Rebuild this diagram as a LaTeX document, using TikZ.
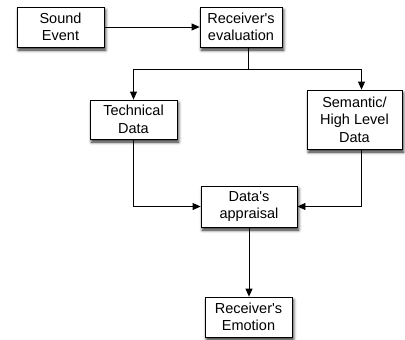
\documentclass[tikz,border=0pt]{standalone}
\usepackage{fontspec}
\setmainfont{Liberation Sans}[Ligatures=TeXOff]
\usetikzlibrary{arrows.meta,shadows.blur,calc}
\begin{document}
\begin{tikzpicture}[x=1pt,y=1pt,
  box/.style={draw=black, line width=0.8pt, fill=white, rectangle, inner sep=0pt,
    align=center, font=\fontsize{14.5}{17.5}\selectfont,
    blur shadow={shadow xshift=1.5pt, shadow yshift=-3pt, shadow blur radius=3pt, shadow opacity=85}},
  conn/.style={draw=black, line width=0.8pt, -{Triangle[length=8pt,width=7pt]}},
  plain/.style={draw=black, line width=0.8pt}]
\useasboundingbox (0,0) rectangle (405,-340);
\node[box, minimum width=87pt, minimum height=40pt] (sound) at (60.5,-27) {Sound\\Event};
\node[box, minimum width=82pt, minimum height=40pt] (recv) at (241,-27) {Receiver's\\evaluation};
\node[box, minimum width=87pt, minimum height=39pt] (tech) at (133.5,-119.5) {Technical\\Data};
\node[box, minimum width=95pt, minimum height=59pt] (sem) at (354.5,-119.5) {Semantic/\\High Level\\Data};
\node[box, minimum width=96pt, minimum height=41pt] (appr) at (249,-206.5) {Data's\\appraisal};
\node[box, minimum width=87pt, minimum height=40pt] (emo) at (248.5,-317) {Receiver's\\Emotion};
\coordinate (split) at ($(recv.south)+(7,-22)$);
\coordinate (semtop) at ($(sem.north)+(7,0)$);
\coordinate (sembot) at ($(sem.south)+(7,0)$);
\draw[conn] (sound.east) -- (recv.west);
\draw[plain] ($(recv.south)+(7,0)$) -- (split);
\draw[conn] (split) -| (tech.north);
\draw[conn] (split) -| (semtop);
\draw[conn] (tech.south) |- (appr.west);
\draw[conn] (sembot) |- (appr.east);
\draw[conn] (appr.south) -- (appr.south |- emo.north);
\end{tikzpicture}
\end{document}
